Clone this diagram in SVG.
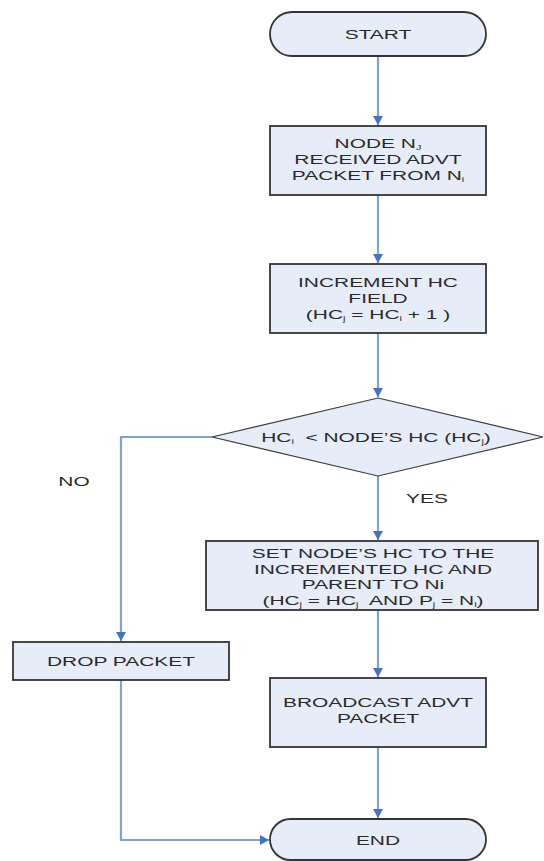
<svg xmlns="http://www.w3.org/2000/svg" width="544" height="861" viewBox="0 0 544 861">
<style>
.shape{fill:#e6ecf8;stroke:#353535;stroke-width:1.8}
.dia{fill:#e6ecf8;stroke:#3c3c3c;stroke-width:1.2}
.conn{fill:none;stroke:#80a2d4;stroke-width:2.2}
.t{font-family:"Liberation Sans",Arial,sans-serif;font-size:13.5px;fill:#2a2a2a;text-anchor:middle;white-space:pre}
.lbl{font-family:"Liberation Sans",Arial,sans-serif;font-size:13.5px;fill:#2a2a2a;text-anchor:middle}
.sub{font-size:7px}
</style>
<defs>
<marker id="arr" markerUnits="userSpaceOnUse" markerWidth="12" markerHeight="12" refX="10" refY="6" orient="auto">
<path d="M1,1 L10,6 L1,11 z" fill="#4472c4"/>
</marker>
</defs>
<g id="connectors">
<path class="conn" d="M378,56 L378,125" marker-end="url(#arr)"/>
<path class="conn" d="M378,195 L378,263" marker-end="url(#arr)"/>
<path class="conn" d="M378,333 L378,397" marker-end="url(#arr)"/>
<path class="conn" d="M378,476 L378,540" marker-end="url(#arr)"/>
<path class="conn" d="M212,437 L121,437 L121,641" marker-end="url(#arr)"/>
<path class="conn" d="M378,610 L378,677" marker-end="url(#arr)"/>
<path class="conn" d="M378,747 L378,818" marker-end="url(#arr)"/>
<path class="conn" d="M121,680 L121,840 L269,840" marker-end="url(#arr)"/>
</g>
<g id="start">
<rect class="shape" x="270" y="12" width="216" height="44" rx="22" ry="22"/>
<g transform="translate(378,0) scale(1.55,1)"><text class="t" x="0" y="39">START</text></g>
</g>
<g id="received">
<rect class="shape" x="270" y="126" width="216" height="69"/>
<g transform="translate(378,0) scale(1.55,1)">
<text class="t" x="0" y="148">NODE N<tspan class="sub" dy="2">J</tspan></text>
<text class="t" x="0" y="164">RECEIVED ADVT</text>
<text class="t" x="0" y="180">PACKET FROM N<tspan class="sub" dy="2">i</tspan></text>
</g>
</g>
<g id="increment">
<rect class="shape" x="270" y="264" width="216" height="69"/>
<g transform="translate(378,0) scale(1.55,1)">
<text class="t" x="0" y="287">INCREMENT HC</text>
<text class="t" x="0" y="303">FIELD</text>
<text class="t" x="0" y="319">(HC<tspan class="sub" dy="2">j</tspan><tspan dy="-2"> = HC</tspan><tspan class="sub" dy="2">i</tspan><tspan dy="-2"> + 1 )</tspan></text>
</g>
</g>
<g id="decision">
<polygon class="dia" points="378,398 543,437 378,476 212,437"/>
<g transform="translate(376,0) scale(1.55,1)">
<text class="t" x="0" y="442">HC<tspan class="sub" dy="2">i</tspan><tspan dy="-2">  &lt; NODE’S HC (HC</tspan><tspan class="sub" dy="2">j</tspan><tspan dy="-2">)</tspan></text>
</g>
</g>
<g id="set-parent">
<rect class="shape" x="206" y="541" width="332" height="69"/>
<g transform="translate(373,0) scale(1.55,1)">
<text class="t" x="0" y="558">SET NODE’S HC TO THE</text>
<text class="t" x="0" y="574">INCREMENTED HC AND</text>
<text class="t" x="0" y="589">PARENT TO Ni</text>
<text class="t" x="0" y="605">(HC<tspan class="sub" dy="2">j</tspan><tspan dy="-2"> = HC</tspan><tspan class="sub" dy="2">j</tspan><tspan dy="-2">  AND P</tspan><tspan class="sub" dy="2">j</tspan><tspan dy="-2"> = N</tspan><tspan class="sub" dy="2">i</tspan><tspan dy="-2">)</tspan></text>
</g>
</g>
<g id="drop">
<rect class="shape" x="13" y="642" width="216" height="38"/>
<g transform="translate(121,0) scale(1.55,1)"><text class="t" x="0" y="666">DROP PACKET</text></g>
</g>
<g id="broadcast">
<rect class="shape" x="270" y="678" width="216" height="69"/>
<g transform="translate(378,0) scale(1.55,1)">
<text class="t" x="0" y="707">BROADCAST ADVT</text>
<text class="t" x="0" y="723">PACKET</text>
</g>
</g>
<g id="end">
<rect class="shape" x="270" y="819" width="216" height="41" rx="20.5" ry="20.5"/>
<g transform="translate(378,0) scale(1.55,1)"><text class="t" x="0" y="845">END</text></g>
</g>
<g id="labels">
<g transform="translate(74,0) scale(1.55,1)"><text class="lbl" x="0" y="486">NO</text></g>
<g transform="translate(427,0) scale(1.55,1)"><text class="lbl" x="0" y="503">YES</text></g>
</g>
</svg>
